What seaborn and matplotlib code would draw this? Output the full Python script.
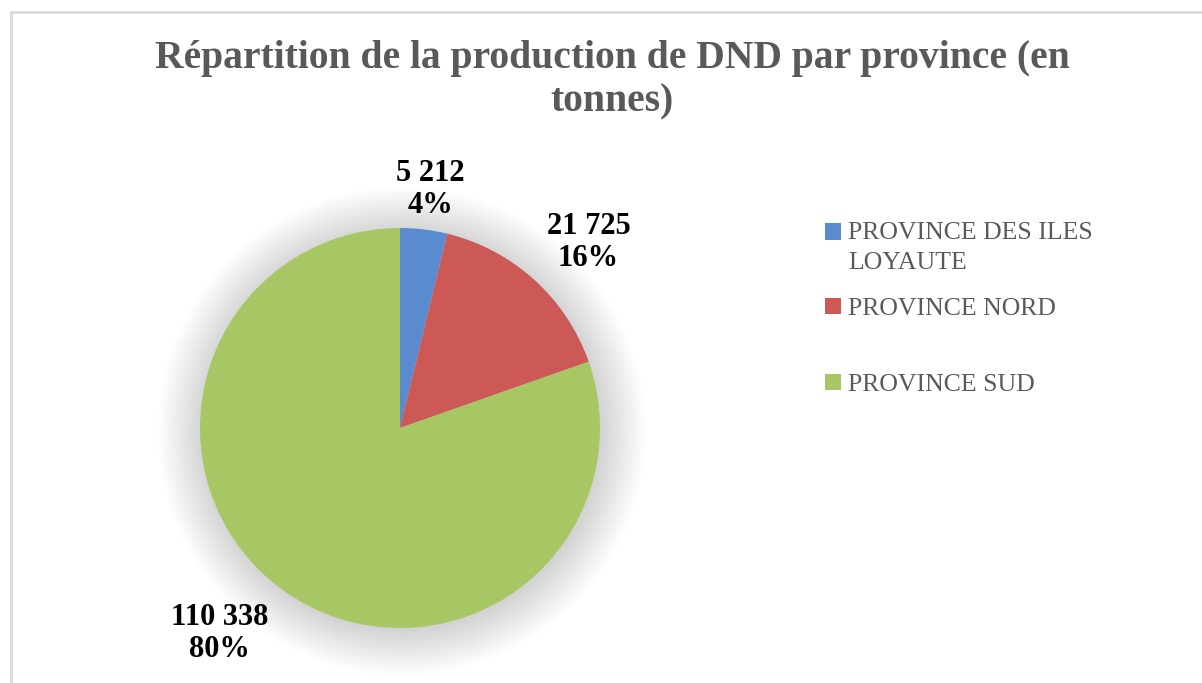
import numpy as np
import matplotlib
matplotlib.use("Agg")
import matplotlib.pyplot as plt
import matplotlib.patches as mpatches
import seaborn as sns

# Données
provinces = ["PROVINCE DES ILES\nLOYAUTE", "PROVINCE NORD", "PROVINCE SUD"]
tonnes = [5212, 21725, 110338]
couleurs = ["#5A8BCF", "#CD5956", "#A7C664"]
titre = "Répartition de la production de DND par province (en\ntonnes)"

# mise en page des étiquettes (distance au centre, décalage en pixels)
distances_label = [1.2, 1.36, 1.37]
decalages_label = [(2, 0), (6, -16), (-22, 18)]
legende_y = [248, 309, 385]

sns.set_theme(style="white")
plt.rcParams['font.family'] = ['Liberation Serif', 'DejaVu Serif']

W, H = 1202, 683
fig = plt.figure(figsize=(W / 100, H / 100), dpi=100)
fig.patch.set_facecolor("white")

# cadre gris clair (coin haut-gauche visible)
fig.add_artist(mpatches.Rectangle((11 / W, -0.05), 1.1, 1 - 12 / H + 0.05,
                                  transform=fig.transFigure, fill=False,
                                  edgecolor="#D9D9D9", linewidth=2))

cx, cy, r = 400, 428, 200
ax = fig.add_axes([(cx - r) / W, (H - cy - r) / H, 2 * r / W, 2 * r / H])

total = sum(tonnes)
wedges, _ = ax.pie(tonnes, colors=couleurs, startangle=90, counterclock=False,
                   radius=1.0, wedgeprops=dict(linewidth=0, zorder=3))
ax.set_xlim(-1, 1)
ax.set_ylim(-1, 1)
ax.set_aspect("equal")
ax.axis("off")

# ombre douce autour du camembert
for rr in np.linspace(1.22, 1.0, 22):
    ax.add_patch(mpatches.Circle((0.01, -0.015), rr, color="#000000", alpha=0.006,
                                 linewidth=0, zorder=1, clip_on=False))

# étiquettes de données
for w, v, d, (dx, dy) in zip(wedges, tonnes, distances_label, decalages_label):
    ang = np.deg2rad((w.theta1 + w.theta2) / 2)
    txt = f"{v:,}".replace(",", " ") + f"\n{v / total:.0%}"
    ax.annotate(txt, (d * np.cos(ang), d * np.sin(ang)), xytext=(dx * 0.72, dy * 0.72),
                textcoords="offset points", ha="center", va="center",
                fontsize=22, fontweight="bold", color="black", linespacing=1.15,
                annotation_clip=False)

fig.text(612 / W, 1 - 40 / H, titre, ha="center", va="top", fontsize=28.5,
         fontweight="bold", color="#595959", linespacing=1.22)

# légende : une entrée par province
for w, lab, y in zip(wedges, provinces, legende_y):
    leg = fig.legend([w], [lab], loc="center left",
                     bbox_to_anchor=(812 / W, 1 - y / H), frameon=False,
                     fontsize=18.5, labelcolor="#595959", handlelength=0.62,
                     handleheight=0.62, handletextpad=0.3, borderpad=0)
    if "\n" in lab:
        leg.get_texts()[0].set_linespacing(1.45)
        h = leg.legend_handles[0]
        h.set_y(h.get_y() + 11.5)

fig.savefig("out.png", dpi=100, facecolor="white")
